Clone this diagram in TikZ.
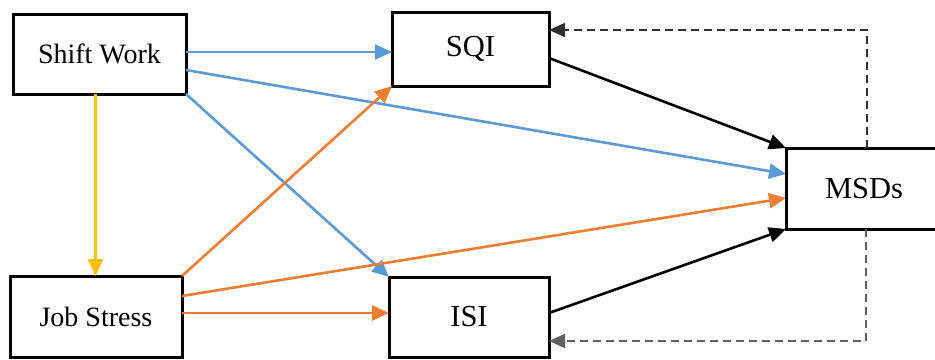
\documentclass[tikz,border=0pt]{standalone}
\usepackage{fontspec}
\setmainfont{Liberation Serif}
\usetikzlibrary{arrows.meta}
\definecolor{cblue}{HTML}{5B9BD5}
\definecolor{corange}{HTML}{ED7D31}
\definecolor{cyellow}{HTML}{FFC000}
\definecolor{dtop}{HTML}{303030}
\definecolor{dbot}{HTML}{606060}
\tikzset{
  box/.style={draw=black, line width=3pt, fill=white, inner sep=0pt, outer sep=0pt},
  smallfont/.style={font=\fontsize{28}{32}\selectfont},
  bigfont/.style={font=\fontsize{30.5}{34}\selectfont},
  arr/.style={line width=2.6pt, -{Triangle[length=17pt,width=15pt]}},
  darr/.style={line width=1.8pt, dash pattern=on 8pt off 5pt, -{Triangle[length=16pt,width=14pt]}},
}
\begin{document}
\begin{tikzpicture}[x=1pt, y=-1pt]
\useasboundingbox (0,0) rectangle (935,359);
\node[box, smallfont, minimum width=173pt, minimum height=80pt] (sw) at (99.5,54) {Shift Work};
\node[box, bigfont, minimum width=157pt, minimum height=74pt] (sqi) at (470.5,49) {SQI};
\node[box, smallfont, minimum width=172pt, minimum height=81pt] (js) at (96,316.5) {Job Stress};
\node[box, bigfont, minimum width=160pt, minimum height=80pt] (isi) at (469,317) {ISI};
\node[box, bigfont, minimum width=156pt, minimum height=81pt] (msd) at (864,188.5) {MSDs};
% dashed feedback
\draw[darr, dtop] ([xshift=3pt]msd.north) |- ([yshift=19pt]sqi.east);
\draw[darr, dbot] ([xshift=2pt]msd.south) |- ([yshift=-24pt]isi.east);
% blue
\draw[arr, cblue] ([yshift=2pt]sw.east) -- ([yshift=-3pt]sqi.west);
\draw[arr, cblue] ([yshift=-16pt]sw.east) -- ([yshift=14.5pt]msd.west);
\draw[arr, cblue] (sw.south east) -- (isi.north west);
% yellow
\draw[arr, cyellow] ([xshift=-4pt]sw.south) -- ([xshift=-4pt]sw.south |- js.north);
% orange
\draw[arr, corange] (js.north east) -- (sqi.south west);
\draw[arr, corange] ([yshift=20.5pt]js.east) -- ([yshift=-9.5pt]msd.west);
\draw[arr, corange] ([yshift=3.5pt]js.east) -- ([yshift=4pt]isi.west);
% black
\draw[arr, black] ([yshift=-9pt]sqi.east) -- (msd.north west);
\draw[arr, black] ([yshift=4pt]isi.east) -- (msd.south west);
\end{tikzpicture}
\end{document}
